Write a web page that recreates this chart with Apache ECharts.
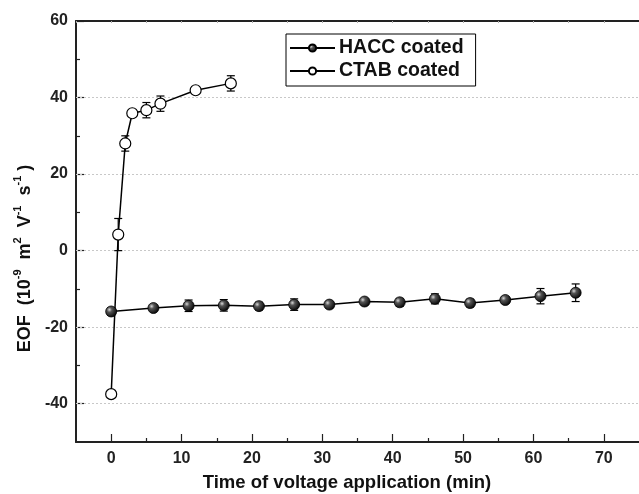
<!DOCTYPE html>
<html><head><meta charset="utf-8">
<script src="https://cdn.jsdelivr.net/npm/echarts@6/dist/echarts.min.js"></script>
<style>html,body{margin:0;padding:0;background:#fff}#c{width:639px;height:494px}</style>
</head><body><div id="c"></div>
<script>
// Data
const haccTime = [0, 6, 11, 16, 21, 26, 31, 36, 41, 46, 51, 56, 61, 66];
const haccEOF  = [-15.9, -15.0, -14.4, -14.3, -14.5, -14.1, -14.1, -13.3, -13.5, -12.6, -13.7, -12.9, -11.9, -11.0];
const haccErr  = [1.0, 0.5, 1.5, 1.5, 1.0, 1.5, 0.8, 0.6, 1.0, 1.3, 1.0, 0.8, 2.0, 2.3];
const ctabTime = [0, 1, 2, 3, 5, 7, 12, 17];
const ctabEOF  = [-37.5, 4.2, 28.0, 35.9, 36.7, 38.4, 41.9, 43.7];
const ctabErr  = [0, 4.2, 2.0, 0.5, 2.0, 2.0, 0, 2.0];
const xTicks = [0, 10, 20, 30, 40, 50, 60, 70];
const xMinorTicks = [5, 15, 25, 35, 45, 55, 65];
const yTicks = [-40, -20, 0, 20, 40, 60];
const yMinorTicks = [-30, -10, 10, 30, 50];
const yGrid = [-40, -20, 0, 20, 40];

const FONT = 'Liberation Sans, Arial, sans-serif';
const chart = echarts.init(document.getElementById('c'));

function errData(xs, ys, es) {
  return xs.map((x, i) => [x, ys[i] - es[i], ys[i] + es[i]]).filter((d, i) => es[i] > 0);
}
function errRender(params, api) {
  const x = api.value(0);
  const lo = api.coord([x, api.value(1)]);
  const hi = api.coord([x, api.value(2)]);
  const w = 4;
  const st = { stroke: '#000', lineWidth: 1.2, fill: null };
  return { type: 'group', children: [
    { type: 'line', shape: { x1: lo[0], y1: lo[1], x2: hi[0], y2: hi[1] }, style: st },
    { type: 'line', shape: { x1: lo[0] - w, y1: lo[1], x2: lo[0] + w, y2: lo[1] }, style: st },
    { type: 'line', shape: { x1: hi[0] - w, y1: hi[1], x2: hi[0] + w, y2: hi[1] }, style: st }
  ]};
}

const sphere = new echarts.graphic.RadialGradient(0.35, 0.35, 0.7, [
  { offset: 0, color: '#d8d8d8' }, { offset: 0.3, color: '#555' }, { offset: 1, color: '#000' }
]);

const tickStyle = { color: '#222', width: 1.2 };
const lineStyleAxis = { color: '#222', width: 2 };

chart.setOption({
  animation: false,
  grid: { left: 76, right: 0, top: 21, bottom: 52, outerBoundsMode: 'none', containLabel: false },
  legend: {
    left: 286, top: 34, orient: 'vertical',
    itemWidth: 45, itemHeight: 9, itemGap: 3,
    padding: [4, 12, 5, 3],
    borderColor: '#000', borderWidth: 1,
    textStyle: { fontFamily: FONT, fontWeight: 'bold', fontSize: 19.5, color: '#111', padding: [0, 0, 0, -1] },
    data: ['HACC coated', 'CTAB coated']
  },
  xAxis: [{
    type: 'value', min: -5, max: 75, interval: 5,
    axisLine: { onZero: false, lineStyle: lineStyleAxis },
    axisTick: { inside: true, length: 8, customValues: xTicks, lineStyle: tickStyle },
    splitLine: { show: false },
    axisLabel: { customValues: xTicks, fontFamily: FONT, fontWeight: 'bold', fontSize: 16, color: '#222', margin: 9 },
    name: 'Time of voltage application (min)', nameLocation: 'middle', nameGap: 31,
    nameTextStyle: { fontFamily: FONT, fontWeight: 'bold', fontSize: 18.5, color: '#111', padding: [0, 21, 0, 0] }
  }, {
    type: 'value', position: 'bottom', min: -5, max: 75, interval: 5,
    axisLine: { show: false, onZero: false },
    axisTick: { inside: true, length: 4, customValues: xMinorTicks, lineStyle: tickStyle },
    splitLine: { show: false }, axisLabel: { show: false }
  }, {
    type: 'value', position: 'top', min: -5, max: 75, interval: 5,
    axisLine: { show: true, onZero: false, lineStyle: lineStyleAxis },
    axisTick: { show: true, inside: true, length: 2, lineStyle: { color: '#aaa' } },
    splitLine: { show: false }, axisLabel: { show: false }
  }],
  yAxis: [{
    type: 'value', min: -50, max: 60, interval: 10,
    axisLine: { show: true, onZero: false, lineStyle: lineStyleAxis },
    axisTick: { inside: true, length: 8, customValues: yTicks, lineStyle: tickStyle },
    splitLine: { show: false },
    axisLabel: { customValues: yTicks, fontFamily: FONT, fontWeight: 'bold', fontSize: 16, color: '#222', margin: 8 },
    name: '{t|EOF  (10}{s|-9}{t|  m}{s|2}{t|  V}{s|-1}{t|  s}{s|-1}{t| )}',
    nameLocation: 'middle', nameGap: 36, nameRotate: 90,
    nameTextStyle: {
      padding: [0, 54, 0, 0],
      rich: {
        t: { fontFamily: FONT, fontWeight: 'bold', fontSize: 18, color: '#111', lineHeight: 22, verticalAlign: 'bottom' },
        s: { fontFamily: FONT, fontWeight: 'bold', fontSize: 11, color: '#111', lineHeight: 22, verticalAlign: 'top' }
      }
    }
  }, {
    type: 'value', position: 'left', offset: 0, min: -50, max: 60, interval: 10,
    axisLine: { show: false, onZero: false },
    axisTick: { show: true, inside: true, length: 4, customValues: yMinorTicks, lineStyle: tickStyle },
    splitLine: { show: false }, axisLabel: { show: false }
  }],
  series: [
    {
      name: 'HACC coated', type: 'line',
      data: haccTime.map((x, i) => [x, haccEOF[i]]),
      symbol: 'circle', symbolSize: 11,
      lineStyle: { color: '#000', width: 1.5 },
      itemStyle: { color: sphere, borderColor: '#000', borderWidth: 0.8 },
      z: 5,
      markLine: {
        silent: true, symbol: 'none', label: { show: false },
        lineStyle: { color: '#c8c8c8', type: [2, 2], width: 1 },
        data: yGrid.map(v => ({ yAxis: v })), z: 1
      }
    },
    {
      name: 'CTAB coated', type: 'line',
      data: ctabTime.map((x, i) => [x, ctabEOF[i]]),
      symbol: 'circle', symbolSize: 11,
      lineStyle: { color: '#000', width: 1.5 },
      itemStyle: { color: '#fff', borderColor: '#000', borderWidth: 1.2 },
      z: 5
    },
    { type: 'custom', renderItem: errRender, data: errData(haccTime, haccEOF, haccErr), z: 4, silent: true },
    { type: 'custom', renderItem: errRender, data: errData(ctabTime, ctabEOF, ctabErr), z: 4, silent: true }
  ]
});
</script></body></html>
